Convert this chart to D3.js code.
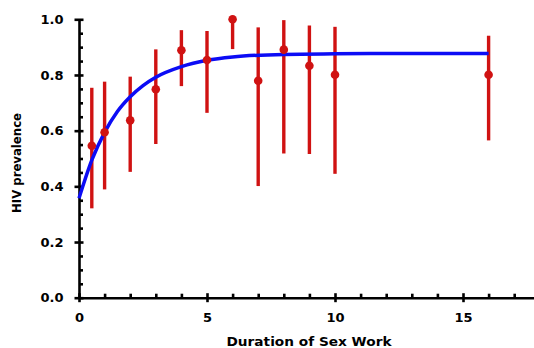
<!DOCTYPE html>
<html>
<head>
<meta charset="utf-8">
<script src="https://cdn.jsdelivr.net/npm/d3@7"></script>
<style>
  body { margin: 0; background: #fff; }
  svg { display: block; }
  .title { font-family: 'DejaVu Sans', sans-serif; font-weight: bold; fill: #000; }
</style>
</head>
<body>
<svg width="534" height="348"></svg>
<script>
const years = [0.5, 1, 2, 3, 4, 5, 6, 7, 8, 9, 10, 16];
const prevalence = [0.546, 0.594, 0.637, 0.749, 0.889, 0.854, 1.0, 0.779, 0.891, 0.833, 0.801, 0.801];
const ciLow = [0.321, 0.389, 0.452, 0.552, 0.760, 0.664, 0.893, 0.401, 0.518, 0.516, 0.445, 0.565];
const ciHigh = [0.754, 0.776, 0.794, 0.892, 0.961, 0.958, 1.0, 0.971, 0.997, 0.978, 0.973, 0.941];

// Fitted curve
const fitX = [0, 0.5, 1, 1.5, 2, 2.5, 3, 4, 5, 6, 8, 10, 12, 16];
const fitY = [0.357, 0.494, 0.594, 0.669, 0.722, 0.762, 0.792, 0.830, 0.853, 0.865, 0.874, 0.876, 0.877, 0.877];

const xMajor = [0, 5, 10, 15];
const yMajor = [0, 0.2, 0.4, 0.6, 0.8, 1.0];

const svg = d3.select('svg');

const x = d3.scaleLinear().domain([0, 18]).range([79, 539.8]);
const y = d3.scaleLinear().domain([0, 1]).range([297.7, 19.3]);

// black lines + bold labels for an axis group
function styleAxis(g) {
	g.selectAll('path, line')
		.attr('stroke', '#000')
		.attr('stroke-width', 2.6);
	g.selectAll('text')
		.attr('fill', '#000')
		.attr('font-family', "'DejaVu Sans', sans-serif")
		.attr('font-weight', 'bold')
		.attr('font-size', 13);
}

// minor ticks (inside)
const xMinor = d3.range(1, 18).filter((d) => d % 5 !== 0);
const yMinor = d3.range(0.05, 1, 0.05).filter((d) => Math.abs(d * 5 - Math.round(d * 5)) > 0.01);

const gxMinor = svg.append('g')
	.attr('transform', `translate(0,${y(0)})`)
	.call(d3.axisBottom(x).tickValues(xMinor).tickSize(-4).tickFormat(''));
gxMinor.select('.domain').remove();
styleAxis(gxMinor);

const gyMinor = svg.append('g')
	.attr('transform', `translate(${x(0)},0)`)
	.call(d3.axisLeft(y).tickValues(yMinor).tickSize(-4).tickFormat(''));
gyMinor.select('.domain').remove();
styleAxis(gyMinor);

// major axes
const gx = svg.append('g')
	.attr('transform', `translate(0,${y(0)})`)
	.call(d3.axisBottom(x).tickValues(xMajor).tickSizeOuter(0).tickFormat(d3.format('d')));
gx.selectAll('.tick line').attr('y1', -4.5).attr('y2', 4.5);
gx.selectAll('.tick text').attr('y', 15.5).attr('dy', '0.71em');
styleAxis(gx);

const gy = svg.append('g')
	.attr('transform', `translate(${x(0)},0)`)
	.call(d3.axisLeft(y).tickValues(yMajor).tickSizeOuter(0).tickFormat(d3.format('.1f')));
gy.selectAll('.tick line').attr('x1', -4.5).attr('x2', 4.5);
gy.selectAll('.tick text').attr('x', -15.5);
styleAxis(gy);

// error bars
const pts = years.map((d, i) => ({ x: d, y: prevalence[i], lo: ciLow[i], hi: ciHigh[i] }));

svg.append('g')
	.selectAll('line')
	.data(pts)
	.join('line')
	.attr('x1', (d) => x(d.x))
	.attr('x2', (d) => x(d.x))
	.attr('y1', (d) => y(d.lo))
	.attr('y2', (d) => y(d.hi))
	.attr('stroke', '#d01212')
	.attr('stroke-width', 3.4);

// fitted line
const line = d3.line()
	.x((d) => x(d[0]))
	.y((d) => y(d[1]))
	.curve(d3.curveMonotoneX);

svg.append('path')
	.datum(fitX.map((d, i) => [d, fitY[i]]))
	.attr('d', line)
	.attr('fill', 'none')
	.attr('stroke', '#0c0cf5')
	.attr('stroke-width', 3.5);

svg.append('g')
	.selectAll('circle')
	.data(pts)
	.join('circle')
	.attr('cx', (d) => x(d.x))
	.attr('cy', (d) => y(d.y))
	.attr('r', 4.3)
	.attr('fill', '#d01212');

// axis titles
svg.append('text')
	.attr('class', 'title')
	.attr('x', 309)
	.attr('y', 345.7)
	.attr('text-anchor', 'middle')
	.attr('font-size', 12.5)
	.attr('textLength', 165)
	.attr('lengthAdjust', 'spacingAndGlyphs')
	.text('Duration of Sex Work');

svg.append('text')
	.attr('class', 'title')
	.attr('transform', 'translate(21,163) rotate(-90)')
	.attr('text-anchor', 'middle')
	.attr('font-size', 11.5)
	.attr('textLength', 100)
	.attr('lengthAdjust', 'spacingAndGlyphs')
	.text('HIV prevalence');
</script>
</body>
</html>
